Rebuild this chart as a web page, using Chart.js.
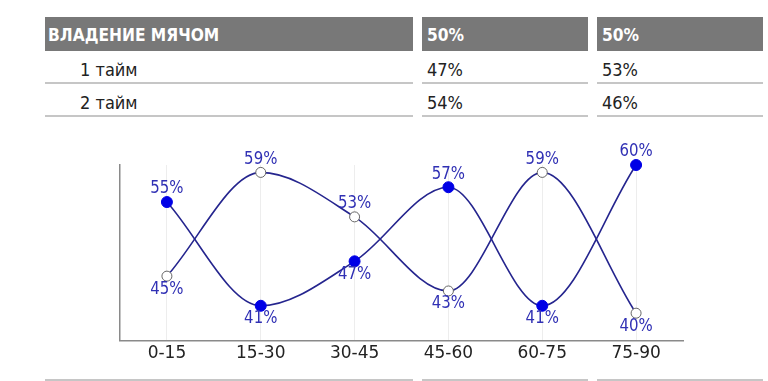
<!DOCTYPE html>
<html>
<head>
<meta charset="utf-8">
<script src="https://cdn.jsdelivr.net/npm/chart.js@4/dist/chart.umd.min.js"></script>
<style>
  html, body { margin: 0; padding: 0; background: #fff; }
  body { width: 768px; height: 381px; position: relative; overflow: hidden;
         font-family: "DejaVu Sans", "Noto Sans", sans-serif; }
  .cell { position: absolute; box-sizing: border-box; font-size: 18px; color: #222;
          line-height: 32px; white-space: nowrap; }
  .cell span { display: inline-block; transform-origin: 0 50%; }
  .head { background: #787878; color: #fff; font-weight: bold; height: 34px; line-height: 35px; }
  .head span { transform: scaleX(0.86); }
  .row { border-bottom: 2px solid #c6c6c6; height: 33px; line-height: 38px; }
  .row span { transform: scaleX(0.9); }
  .rule { position: absolute; height: 2px; background: #c6c6c6; }
  #wrap { position: absolute; left: 0; top: 130px; width: 768px; height: 251px; }
</style>
</head>
<body>
<div id="table"></div>
<div id="wrap"><canvas id="j-canvas-possession"></canvas></div>
<div class="rule" style="left:45px; width:368px; top:379px"></div>
<div class="rule" style="left:422px; width:166px; top:379px"></div>
<div class="rule" style="left:597px; width:166px; top:379px"></div>
<script>
// data
var title = 'ВЛАДЕНИЕ МЯЧОМ';
var halves = ['1 тайм', '2 тайм'];
var totalHome = '50%';
var totalAway = '50%';
var halfHome = ['47%', '54%'];
var halfAway = ['53%', '46%'];

var periods = ['0-15', '15-30', '30-45', '45-60', '60-75', '75-90'];
var home = [55, 41, 47, 57, 41, 60];
var away = [45, 59, 53, 43, 59, 40];

// table
var cols = [
	{ left: 45, width: 368, pad: 3, head: title, rows: halves, indent: 35 },
	{ left: 422, width: 166, pad: 5, head: totalHome, rows: halfHome, indent: 5 },
	{ left: 597, width: 166, pad: 5, head: totalAway, rows: halfAway, indent: 5 }
];
var html = '';
for (var i = 0; i < cols.length; i++) {
	var c = cols[i];
	html += '<div class="cell head" style="left:' + c.left + 'px;top:17px;width:' + c.width + 'px;padding-left:' + c.pad + 'px"><span>' + c.head + '</span></div>';
	for (var j = 0; j < c.rows.length; j++) {
		html += '<div class="cell row" style="left:' + c.left + 'px;top:' + (51 + j * 33) + 'px;width:' + c.width + 'px;padding-left:' + c.indent + 'px"><span>' + c.rows[j] + '</span></div>';
	}
}
document.getElementById('table').innerHTML = html;

var fontFamily = '"DejaVu Sans", "Noto Sans", sans-serif';

var pointLabels = {
	id: 'pointLabels',
	afterDatasetsDraw: function(chart) {
		var ctx = chart.ctx;
		ctx.save();
		ctx.font = '17px ' + fontFamily;
		ctx.fillStyle = '#3030b4';
		ctx.textAlign = 'center';
		ctx.textBaseline = 'middle';
		for (var d = 0; d < chart.data.datasets.length; d++) {
			var ds = chart.data.datasets[d];
			var other = chart.data.datasets[1 - d].data;
			var meta = chart.getDatasetMeta(d);
			for (var k = 0; k < meta.data.length; k++) {
				var p = meta.data[k];
				var up = ds.data[k] >= other[k];
				ctx.save();
				ctx.translate(p.x, up ? p.y - 13 : p.y + 13);
				ctx.scale(0.88, 1);
				ctx.fillText(ds.data[k] + '%', 0, 0);
				ctx.restore();
			}
		}
		ctx.restore();
	}
};

var ctx = document.getElementById('j-canvas-possession').getContext('2d');
window.myLine = new Chart(ctx, {
	type: 'line',
	data: {
		labels: periods,
		datasets: [{
			label: 'home',
			data: home,
			borderColor: '#25258e',
			borderWidth: 1.6,
			cubicInterpolationMode: 'monotone',
			pointRadius: 5.5,
			pointBackgroundColor: '#0000e6',
			pointBorderColor: '#0000e6',
			pointBorderWidth: 1
		}, {
			label: 'away',
			data: away,
			borderColor: '#25258e',
			borderWidth: 1.6,
			cubicInterpolationMode: 'monotone',
			pointRadius: 5,
			pointBackgroundColor: '#ffffff',
			pointBorderColor: '#666666',
			pointBorderWidth: 1
		}]
	},
	options: {
		responsive: true,
		maintainAspectRatio: false,
		animation: false,
		clip: false,
		events: [],
		layout: { padding: { left: 120, right: 85, top: 35, bottom: 14 } },
		plugins: { legend: { display: false }, tooltip: { enabled: false } },
		scales: {
			x: {
				offset: true,
				border: { display: true, color: '#8a8a8a', width: 1.5 },
				grid: { display: true, drawTicks: false, color: '#ededed', lineWidth: 1 },
				ticks: { color: '#222', padding: 3, font: { family: fontFamily, size: 17 } }
			},
			y: {
				min: 36.3,
				max: 60,
				border: { display: true, color: '#8a8a8a', width: 1.5 },
				grid: { display: false, drawTicks: false },
				ticks: { display: false }
			}
		}
	},
	plugins: [pointLabels]
});
</script>
</body>
</html>
